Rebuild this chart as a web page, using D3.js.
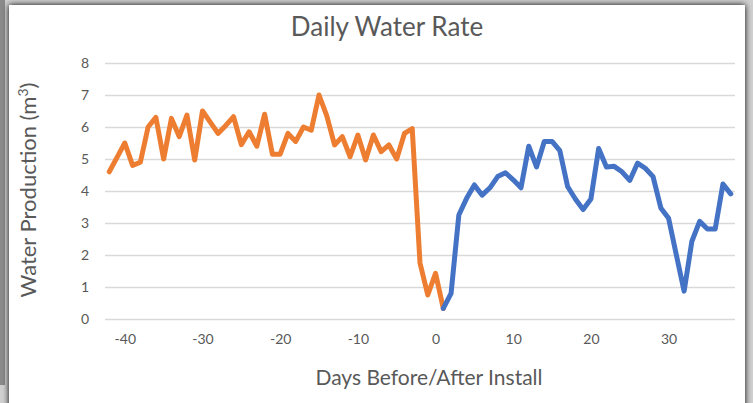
<!DOCTYPE html>
<html>
<head>
<meta charset="utf-8">
<script src="https://cdn.jsdelivr.net/npm/d3@7"></script>
<style>
	body{ margin:0; background:#d4d4d4; }
	svg{ display:block; }
	text{ font-family: Lato, "Open Sans", sans-serif; fill:#595959; }
</style>
</head>
<body>
<svg id="svg" width="753" height="403"></svg>
<script>
// days before install (orange) and after install (blue)
var beforeDays = [-42,-41,-40,-39,-38,-37,-36,-35,-34,-33,-32,-31,-30,-29,-28,-27,-26,-25,-24,-23,-22,-21,-20,-19,-18,-17,-16,-15,-14,-13,-12,-11,-10,-9,-8,-7,-6,-5,-4,-3,-2,-1,0,1];
var beforeRate = [4.6,5.05,5.5,4.8,4.9,6.0,6.3,5.0,6.27,5.7,6.37,4.97,6.5,6.15,5.8,6.05,6.32,5.45,5.85,5.4,6.4,5.15,5.15,5.8,5.55,6.0,5.9,7.0,6.35,5.44,5.7,5.07,5.75,4.97,5.75,5.23,5.44,5.0,5.8,5.95,1.75,0.75,1.43,0.33];
var afterDays = [1,2,3,4,5,6,7,8,9,10,11,12,13,14,15,16,17,18,19,20,21,22,23,24,25,26,27,28,29,30,31,32,33,34,35,36,37,38];
var afterRate = [0.33,0.8,3.25,3.77,4.19,3.87,4.1,4.45,4.57,4.35,4.1,5.4,4.75,5.55,5.55,5.26,4.14,3.75,3.42,3.75,5.33,4.75,4.77,4.6,4.33,4.87,4.71,4.45,3.47,3.15,2.0,0.87,2.43,3.05,2.81,2.81,4.22,3.91];
var xTicks = [-40,-30,-20,-10,0,10,20,30];
var yTicks = [0,1,2,3,4,5,6,7,8];

var svg = d3.select("#svg");

// card with shadow
var defs = svg.append("defs");
var f = defs.append("filter").attr("id","shadow").attr("x","-5%").attr("y","-5%").attr("width","110%").attr("height","110%");
f.append("feGaussianBlur").attr("in","SourceAlpha").attr("stdDeviation",3);
f.append("feOffset").attr("dx",0).attr("dy",0).attr("result","b");
var m = f.append("feMerge");
m.append("feMergeNode").attr("in","b");
m.append("feMergeNode").attr("in","SourceGraphic");

svg.append("rect").attr("x",0).attr("y",0).attr("width",753).attr("height",403).style("fill","#d0d0d0");
svg.append("rect").attr("x",0).attr("y",0).attr("width",5).attr("height",385).style("fill","#8a8a8a");
svg.append("rect").attr("x",9).attr("y",5).attr("width",736).attr("height",410).style("fill","#fff").attr("filter","url(#shadow)");

var plotLeft = 105, plotRight = 735, plotTop = 63, plotBottom = 319;
var x = d3.scaleLinear().domain([-42.55, 38.55]).range([plotLeft, plotRight]);
var y = d3.scaleLinear().domain([0, 8]).range([plotBottom, plotTop]);
var fmt = function(d){ return String(d); };

// grid + y labels
var gy = svg.append("g").attr("transform","translate(" + plotLeft + ",0)")
	.call(d3.axisLeft(y).tickValues(yTicks).tickSize(-(plotRight - plotLeft)).tickPadding(16).tickFormat(fmt));
gy.select(".domain").remove();
gy.selectAll(".tick line").attr("stroke","#d9d9d9").attr("stroke-width",1.5);
gy.selectAll(".tick text").style("font-size","14px").style("fill","#595959");

// x labels
var gx = svg.append("g").attr("transform","translate(0," + plotBottom + ")")
	.call(d3.axisBottom(x).tickValues(xTicks).tickSize(0).tickPadding(15).tickFormat(fmt));
gx.select(".domain").remove();
gx.selectAll(".tick text").style("font-size","14px").style("fill","#595959");

var line = d3.line().x(function(d){ return x(d[0]); }).y(function(d){ return y(d[1]); });

var before = beforeDays.map(function(d, i){ return [d, beforeRate[i]]; });
var after = afterDays.map(function(d, i){ return [d, afterRate[i]]; });

svg.append("path").datum(before).attr("d", line).style("fill","none").style("stroke","#ED7D31")
	.style("stroke-width",5).style("stroke-linejoin","round").style("stroke-linecap","round");
svg.append("path").datum(after).attr("d", line).style("fill","none").style("stroke","#4472C4")
	.style("stroke-width",5).style("stroke-linejoin","round").style("stroke-linecap","round");

// titles
svg.append("text").attr("x",387).attr("y",36).attr("text-anchor","middle").style("font-size","26px").text("Daily Water Rate");
svg.append("text").attr("x",429).attr("y",385).attr("text-anchor","middle").style("font-size","21px").text("Days Before/After Install");
var yt = svg.append("text").attr("transform","translate(36,190) rotate(-90)").attr("text-anchor","middle").style("font-size","22px");
yt.append("tspan").text("Water Production (m");
yt.append("tspan").attr("dy",-8).style("font-size","14px").text("3");
yt.append("tspan").attr("dy",8).text(")");
</script>
</body>
</html>
